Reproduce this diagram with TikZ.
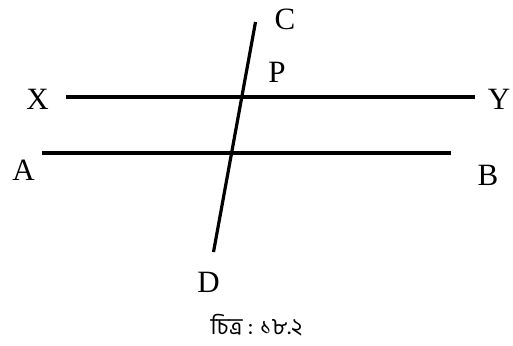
\documentclass[tikz,border=0pt]{standalone}
\usepackage{fontspec}
\setmainfont{Liberation Serif}
\newfontfamily\bnfont[Script=Bengali]{Hind Siliguri}
\begin{document}
\begin{tikzpicture}[x=1pt,y=-1pt,line join=round,line cap=butt,every node/.style={font=\fontsize{31}{31}\selectfont},
	rekha/.style={line width=3.2pt}]
	\useasboundingbox (0,0) rectangle (513,345);
	\path
	(66,97) coordinate (X)
	(475,97) coordinate (Y)
	(42,153) coordinate (A)
	(451,153) coordinate (B)
	(255.5,22) coordinate (C)
	(213.5,252) coordinate (D);
	\draw[rekha] (X) -- (Y);
	\draw[rekha] (A) -- (B);
	\draw[rekha] (C) -- (D);
	\path (37.5,99) node (lX) {X};
	\path (499,99) node[inner sep=1pt] (lY) {Y};
	\path (23.5,170) node (lA) {A};
	\path (488,175) node (lB) {B};
	\path (285,19) node (lC) {C};
	\path (277,72) node (lP) {P};
	\path (208.5,282) node (lD) {D};
	\path (256.5,325) node[font=\bnfont\fontsize{23}{23}\selectfont,inner sep=1pt] (cap) {চিত্র : ১৮.২};
\end{tikzpicture}
\end{document}
